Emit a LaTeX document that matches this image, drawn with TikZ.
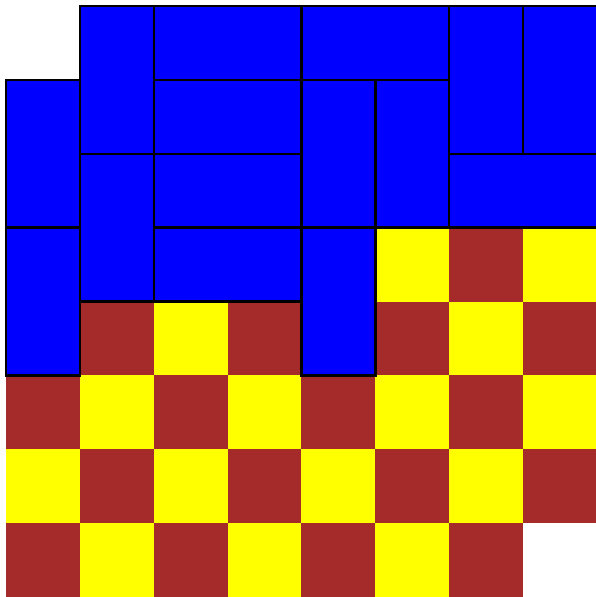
\documentclass[tikz,border=0pt]{standalone}
\definecolor{cbrown}{HTML}{A52A2A}
\definecolor{cyellow}{HTML}{FFFF00}
\definecolor{cblue}{HTML}{0000FF}
\tikzset{
  domino/.style={fill=cblue, draw=black, line width=0.9pt, line join=miter},
  darkcell/.style={fill=cbrown},
  lightcell/.style={fill=cyellow}
}
\begin{document}
\begin{tikzpicture}
\useasboundingbox (-0.081,0.081) rectangle (7.98,-8.0);
% checkerboard part
\foreach \r in {3,...,7}{
  \foreach \c in {0,...,7}{
    \pgfmathtruncatemacro{\p}{mod(\r+\c,2)}
    \pgfmathtruncatemacro{\skip}{(\r==7)&&(\c==7)}
    \ifnum\skip=0
      \ifnum\p=1
        \fill[darkcell] (\c,-\r) rectangle ++(1,-1);
      \else
        \fill[lightcell] (\c,-\r) rectangle ++(1,-1);
      \fi
    \fi
  }
}
% dominoes: col,row,width,height
\foreach \c/\r/\w/\h in {0/1/1/2, 0/3/1/2, 1/0/1/2, 1/2/1/2, 2/0/2/1, 4/0/2/1,
  6/0/1/2, 7/0/1/2, 2/1/2/1, 4/1/1/2, 5/1/1/2, 2/2/2/1, 6/2/2/1, 2/3/2/1, 4/3/1/2}{
  \draw[domino] (\c,-\r) rectangle ++(\w,-\h);
}
\end{tikzpicture}
\end{document}
